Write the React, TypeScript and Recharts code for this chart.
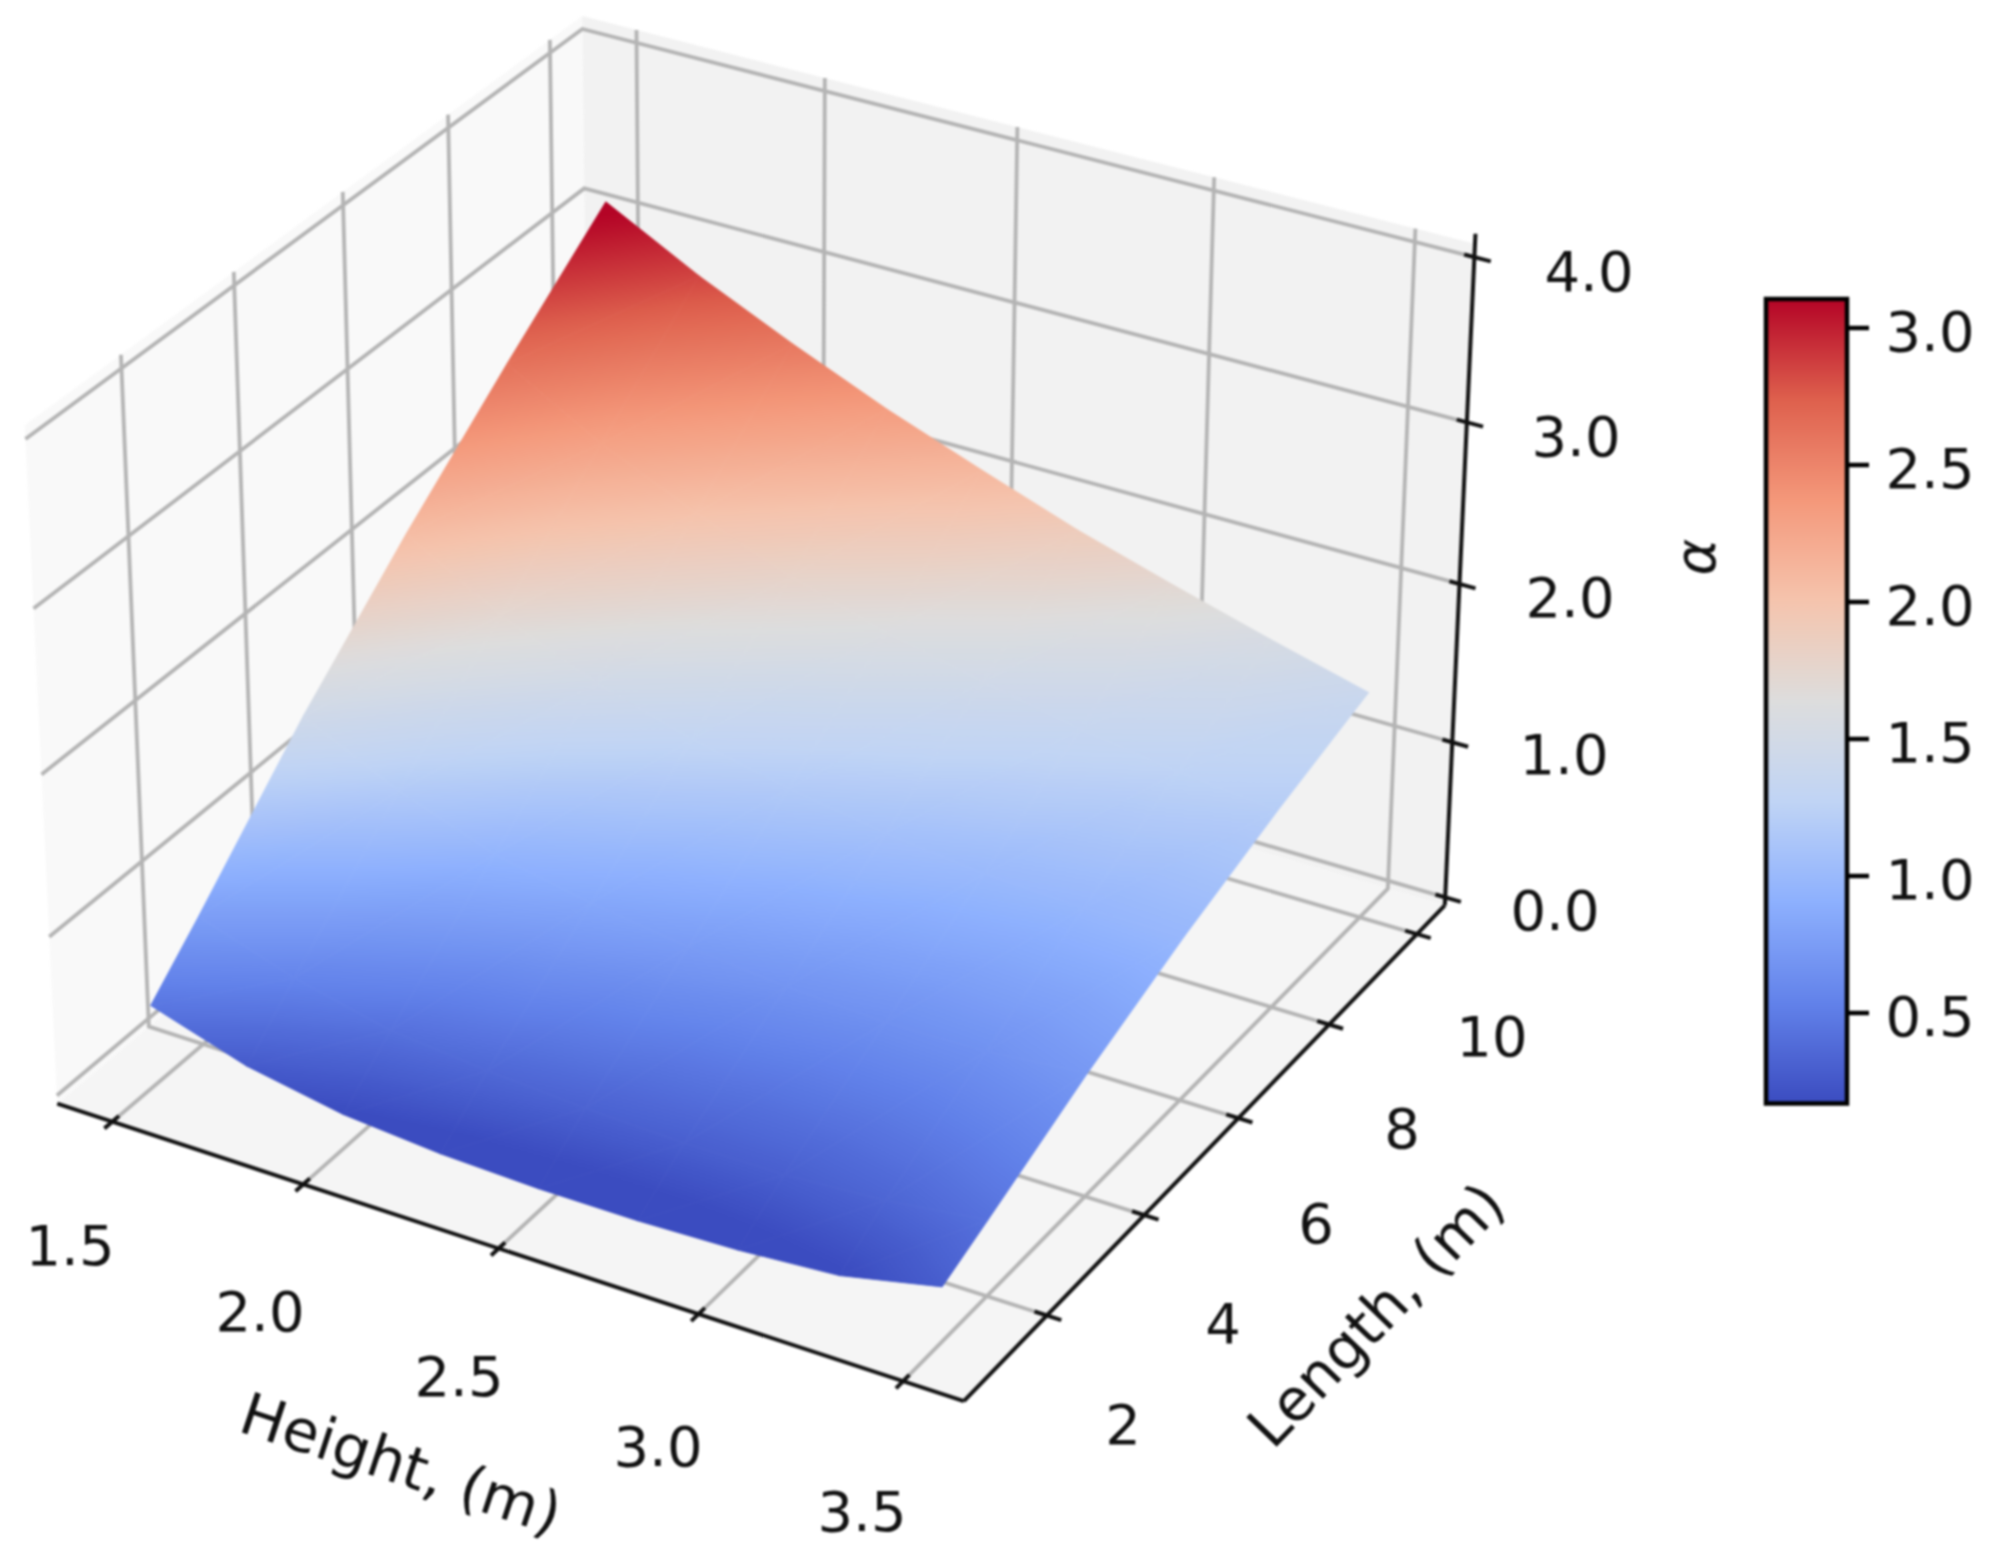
import React from 'react';
import { ScatterChart, Scatter, XAxis, YAxis } from 'recharts';

const W = 1996;
const H = 1560;

// values
const heights = [1.5, 1.75, 2.0, 2.25, 2.5, 2.75, 3.0, 3.25, 3.5];
const lengths = [1.1, 2, 4, 6, 8, 10];
const alphaAtH150 = [0.46, 0.76, 1.46, 2.07, 2.63, 3.16];
const alphaAtH175 = [0.27, 0.56, 1.17, 1.73, 2.29, 2.85];
const alphaAtH200 = [0.16, 0.42, 0.95, 1.48, 2.02, 2.58];
const alphaAtH225 = [0.11, 0.36, 0.83, 1.3, 1.79, 2.33];
const alphaAtH250 = [0.09, 0.32, 0.74, 1.17, 1.61, 2.11];
const alphaAtH275 = [0.09, 0.3, 0.68, 1.07, 1.47, 1.9];
const alphaAtH300 = [0.11, 0.3, 0.65, 1.0, 1.35, 1.72];
const alphaAtH325 = [0.155, 0.34, 0.66, 0.97, 1.26, 1.55];
const alphaAtH350 = [0.29, 0.42, 0.72, 0.98, 1.2, 1.39];
const alphaRows = [alphaAtH150, alphaAtH175, alphaAtH200, alphaAtH225, alphaAtH250, alphaAtH275, alphaAtH300, alphaAtH325, alphaAtH350];

const heightTicks = [1.5, 2.0, 2.5, 3.0, 3.5];
const lengthTicks = [2, 4, 6, 8, 10];
const zTicks = [0, 1, 2, 3, 4];
const barTicks = [0.5, 1.0, 1.5, 2.0, 2.5, 3.0];
const alphaMin = 0.17;
const alphaMax = 3.106;

// matplotlib coolwarm
const coolwarm = [
  [59, 76, 192], [98, 130, 234], [141, 176, 254], [192, 212, 245], [221, 221, 221],
  [245, 196, 173], [244, 152, 122], [222, 96, 77], [180, 4, 38],
];

// view limits of the box
const Hlim = [1.354, 3.646];
const Llim = [0.35, 10.65];
const Zlim = [-0.052, 4.08];
const zAxisTop = 4.14;

const colorOf = (v: number) => {
  const t = Math.max(0, Math.min(1, (v - alphaMin) / (alphaMax - alphaMin))) * (coolwarm.length - 1);
  const i = Math.min(coolwarm.length - 2, Math.floor(t));
  const f = t - i;
  const c = coolwarm[i].map((a, k) => Math.round(a + (coolwarm[i + 1][k] - a) * f));
  return `rgb(${c[0]},${c[1]},${c[2]})`;
};

// elev 30, azim -60 perspective view
const project = (h: number, l: number, z: number) => {
  const qx = ((h - 1.4) / 2.2 - 0.5) * 1.1429;
  const qy = ((l - 0.55) / 9.9 - 0.5) * 1.1429;
  const qz = z * 0.2137 - 0.4357;
  const xv = 0.866 * qx + 0.5 * qy;
  const yv = -0.25 * qx + 0.433 * qy + 0.866 * qz;
  const d = 10 - (0.433 * qx - 0.75 * qy + 0.5 * qz);
  return { x: 57 + (xv / d + 0.08103) * 8723, y: 1401 - (yv / d + 0.08332) * 8760 };
};

const barY = (v: number) => 328 + (3 - v) * 274;
const barLeft = 1766;
const barRight = 1847;

const Nothing = () => <g />;
let gradId = 0;

const gridProps = { stroke: '#b4b4b4', strokeWidth: 3.8, fill: 'none' };

const lineSeries = (pts: { x: number; y: number }[], key: string, stroke: string, width: number) => (
  <Scatter
    key={key}
    data={pts}
    dataKey="y"
    isAnimationActive={false}
    shape={Nothing}
    line={(p: any) => (
      <polyline
        points={p.points.map((q: any) => `${q.x},${q.y}`).join(' ')}
        fill="none"
        stroke={stroke}
        strokeWidth={width}
        strokeLinejoin="miter"
      />
    )}
  />
);

const polySeries = (pts: { x: number; y: number }[], key: string, fill: string) => (
  <Scatter
    key={key}
    data={pts}
    dataKey="y"
    isAnimationActive={false}
    shape={Nothing}
    line={(p: any) => <polygon points={p.points.map((q: any) => `${q.x},${q.y}`).join(' ')} fill={fill} stroke="none" />}
  />
);

const triangleSeries = (verts: { h: number; l: number; a: number }[], key: string) => {
  const pts = verts.map((v) => ({ ...project(v.h, v.l, v.a) }));
  const zs = verts.map((v) => v.a);
  return (
    <Scatter
      key={key}
      data={pts}
      dataKey="y"
      isAnimationActive={false}
      shape={Nothing}
      line={(p: any) => {
        const s = p.points;
        const det = (s[1].x - s[0].x) * (s[2].y - s[0].y) - (s[2].x - s[0].x) * (s[1].y - s[0].y);
        const a = ((zs[1] - zs[0]) * (s[2].y - s[0].y) - (zs[2] - zs[0]) * (s[1].y - s[0].y)) / det;
        const b = ((s[1].x - s[0].x) * (zs[2] - zs[0]) - (s[2].x - s[0].x) * (zs[1] - zs[0])) / det;
        const g2 = a * a + b * b;
        const lo = Math.min(...zs);
        const hi = Math.max(...zs);
        const start = s[zs.indexOf(lo)];
        const id = `tri-${key}-${gradId++}`;
        const stops = Array.from({ length: 13 }, (_, i) => i / 12);
        return (
          <g>
            <defs>
              <linearGradient
                id={id}
                gradientUnits="userSpaceOnUse"
                x1={start.x}
                y1={start.y}
                x2={start.x + ((hi - lo) * a) / g2}
                y2={start.y + ((hi - lo) * b) / g2}
              >
                {stops.map((t) => (
                  <stop key={t} offset={t} stopColor={colorOf(lo + t * (hi - lo))} />
                ))}
              </linearGradient>
            </defs>
            <polygon
              points={s.map((q: any) => `${q.x},${q.y}`).join(' ')}
              fill={`url(#${id})`}
              stroke={`url(#${id})`}
              strokeWidth={0.8}
              strokeLinejoin="round"
            />
          </g>
        );
      }}
    />
  );
};

const Label = (p: any) => {
  const e = p.payload;
  return (
    <text
      x={p.cx}
      y={p.cy}
      textAnchor="middle"
      dominantBaseline="central"
      fontFamily="DejaVu Sans"
      fontSize={e.size}
      fontStyle={e.italic ? 'italic' : 'normal'}
      fill="#111"
      transform={e.rot ? `rotate(${e.rot} ${p.cx} ${p.cy})` : undefined}
    >
      {e.label}
    </text>
  );
};

const heightLabels = ['1.5', '2.0', '2.5', '3.0', '3.5'];
const heightLabelAt = [[70, 1245], [260, 1311], [459, 1376], [658, 1446], [862, 1511]];
const lengthLabels = ['2', '4', '6', '8', '10'];
const lengthLabelAt = [[1123, 1424], [1223, 1323], [1316, 1223], [1402, 1128], [1492, 1036]];
const zLabels = ['0.0', '1.0', '2.0', '3.0', '4.0'];
const zLabelAt = [[1555, 910], [1564, 754], [1570, 597], [1576, 436], [1589, 271]];
const barLabels = ['0.5', '1.0', '1.5', '2.0', '2.5', '3.0'];
const tickSize = 56;

const textData = [
  ...heightLabels.map((label, i) => ({ label, x: heightLabelAt[i][0], y: heightLabelAt[i][1], size: tickSize })),
  ...lengthLabels.map((label, i) => ({ label, x: lengthLabelAt[i][0], y: lengthLabelAt[i][1], size: tickSize })),
  ...zLabels.map((label, i) => ({ label, x: zLabelAt[i][0], y: zLabelAt[i][1], size: tickSize })),
  ...barLabels.map((label, i) => ({ label, x: 1930, y: barY(barTicks[i]) + 3, size: tickSize })),
  { label: 'Height, (m)', x: 401, y: 1464, size: 58.5, rot: 18.3 },
  { label: 'Length, (m)', x: 1376, y: 1315, size: 58, rot: -46 },
  { label: 'α', x: 1695, y: 557, size: 56, rot: -90, italic: true },
];

export default function App() {
  const [h0, h1] = Hlim;
  const [l0, l1] = Llim;
  const [z0, z1] = Zlim;

  const panes = [
    polySeries([project(h0, l0, z0), project(h0, l1, z0), project(h0, l1, z1), project(h0, l0, z1)], 'pane-left', '#f9f9f9'),
    polySeries([project(h0, l1, z0), project(h1, l1, z0), project(h1, l1, z1), project(h0, l1, z1)], 'pane-right', '#f2f2f2'),
    polySeries([project(h0, l0, z0), project(h1, l0, z0), project(h1, l1, z0), project(h0, l1, z0)], 'pane-floor', '#f5f5f5'),
  ];

  const grids = [
    ...heightTicks.map((t) =>
      lineSeries([project(t, l0, z0), project(t, l1, z0), project(t, l1, z1)], `g-h-${t}`, gridProps.stroke, gridProps.strokeWidth)
    ),
    ...lengthTicks.map((t) =>
      lineSeries([project(h1, t, z0), project(h0, t, z0), project(h0, t, z1)], `g-l-${t}`, gridProps.stroke, gridProps.strokeWidth)
    ),
    ...zTicks.map((t) =>
      lineSeries([project(h0, l0, t), project(h0, l1, t), project(h1, l1, t)], `g-z-${t}`, gridProps.stroke, gridProps.strokeWidth)
    ),
  ];

  const axes = [
    lineSeries([project(h0, l0, z0), project(h1, l0, z0)], 'ax-h', '#111', 4),
    lineSeries([project(h1, l0, z0), project(h1, l1, z0)], 'ax-l', '#111', 4),
    lineSeries([project(h1, l1, z0), project(h1, l1, zAxisTop)], 'ax-z', '#111', 4),
    ...heightTicks.map((t) => lineSeries([project(t, l0 - 0.14, z0), project(t, l0 + 0.12, z0)], `t-h-${t}`, '#111', 4)),
    ...lengthTicks.map((t) => lineSeries([project(h1 - 0.03, t, z0), project(h1 + 0.035, t, z0)], `t-l-${t}`, '#111', 4)),
    ...zTicks.map((t) => lineSeries([project(h1 - 0.025, l1, t), project(h1 + 0.04, l1, t)], `t-z-${t}`, '#111', 4)),
  ];

  const surface: React.ReactNode[] = [];
  for (let i = 0; i < heights.length - 1; i++) {
    for (let j = 0; j < lengths.length - 1; j++) {
      const n = (a: number, b: number) => ({ h: heights[a], l: lengths[b], a: alphaRows[a][b] });
      surface.push(triangleSeries([n(i, j), n(i + 1, j), n(i + 1, j + 1)], `s-${i}-${j}-a`));
      surface.push(triangleSeries([n(i, j), n(i + 1, j + 1), n(i, j + 1)], `s-${i}-${j}-b`));
    }
  }

  const barRect = [
    { x: barLeft, y: barY(alphaMax) },
    { x: barRight, y: barY(alphaMax) },
    { x: barRight, y: barY(alphaMin) },
    { x: barLeft, y: barY(alphaMin) },
  ];
  const barStops = Array.from({ length: 17 }, (_, i) => i / 16);
  const colorbar = (
    <Scatter
      key="colorbar"
      data={barRect}
      dataKey="y"
      isAnimationActive={false}
      shape={Nothing}
      line={(p: any) => {
        const s = p.points;
        return (
          <g>
            <defs>
              <linearGradient id="barGrad" x1="0" y1="1" x2="0" y2="0">
                {barStops.map((t) => (
                  <stop key={t} offset={t} stopColor={colorOf(alphaMin + t * (alphaMax - alphaMin))} />
                ))}
              </linearGradient>
            </defs>
            <polygon points={s.map((q: any) => `${q.x},${q.y}`).join(' ')} fill="url(#barGrad)" stroke="#000" strokeWidth={4.5} />
          </g>
        );
      }}
    />
  );
  const barTickMarks = barTicks.map((t) =>
    lineSeries([{ x: barRight, y: barY(t) }, { x: barRight + 22, y: barY(t) }], `bt-${t}`, '#000', 4.5)
  );

  return (
    <div style={{ position: 'absolute', left: 0, top: 0, width: W, height: H, filter: 'blur(1.2px)' }}>
      <ScatterChart width={W} height={H} margin={{ top: 0, right: 0, bottom: 0, left: 0 }}>
        <XAxis type="number" dataKey="x" domain={[0, W]} hide allowDataOverflow />
        <YAxis type="number" dataKey="y" domain={[0, H]} reversed hide allowDataOverflow />
        {panes}
        {grids}
        {axes}
        {surface}
        {colorbar}
        {barTickMarks}
        <Scatter data={textData} dataKey="y" isAnimationActive={false} shape={Label} />
      </ScatterChart>
    </div>
  );
}
